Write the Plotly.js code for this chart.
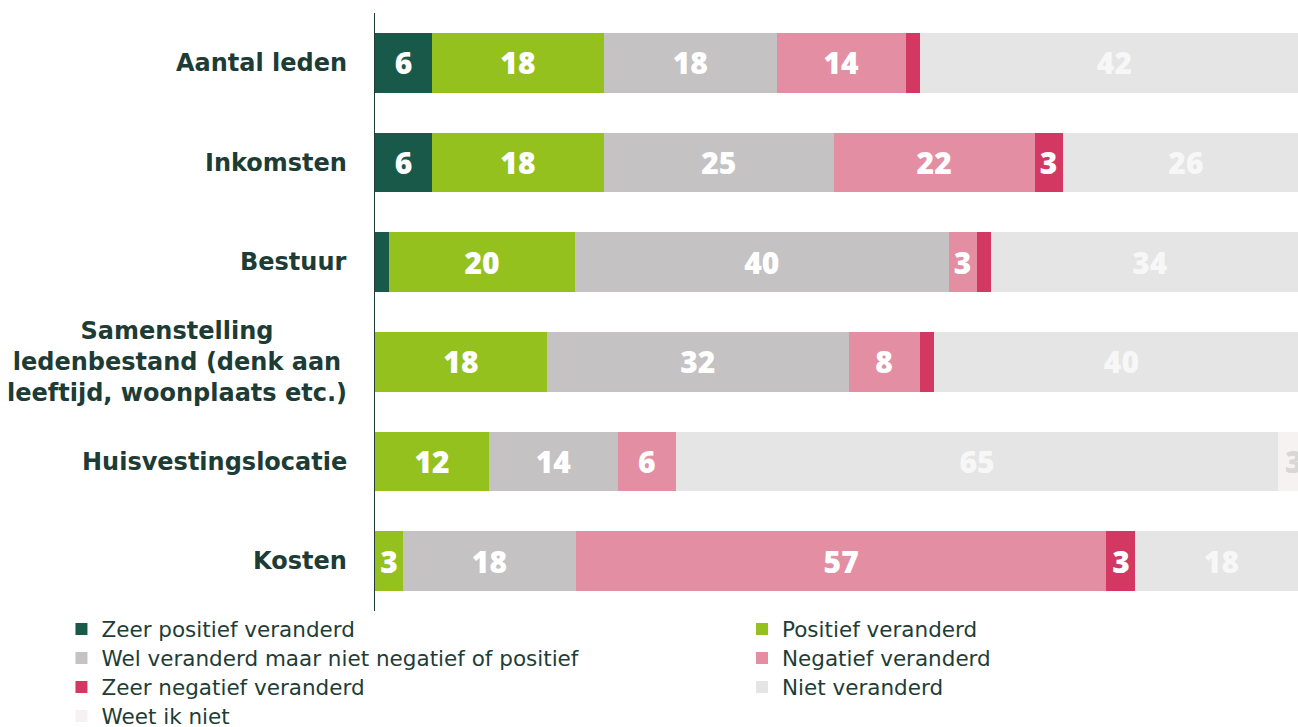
<!DOCTYPE html>
<html>
<head>
<meta charset="utf-8">
<script src="https://cdn.plot.ly/plotly-3.0.1.min.js"></script>
<style>
html, body { margin: 0; padding: 0; background: #ffffff; overflow: hidden; }
#chart { width: 1298px; height: 727px; }
</style>
</head>
<body>
<div id="chart"></div>
<script>
// Categories (top to bottom)
const categories = [
  "Aantal leden",
  "Inkomsten",
  "Bestuur",
  "Samenstelling ledenbestand (denk aan leeftijd, woonplaats etc.)",
  "Huisvestingslocatie",
  "Kosten"
];
const categoryLabels = [
  "Aantal leden",
  "Inkomsten",
  "Bestuur",
  "Samenstelling<br>ledenbestand (denk aan<br>leeftijd, woonplaats etc.)",
  "Huisvestingslocatie",
  "Kosten"
];

// Series names
const seriesNames = [
  "Zeer positief veranderd",
  "Positief veranderd",
  "Wel veranderd maar niet negatief of positief",
  "Negatief veranderd",
  "Zeer negatief veranderd",
  "Niet veranderd",
  "Weet ik niet"
];

// Values (% of respondents)
const zeerPositief  = [6.1, 6.1, 1.5, 0, 0, 0];
const positief      = [18.4, 18.4, 19.9, 18.4, 12.2, 3.0];
const welVeranderd  = [18.5, 24.6, 40.0, 32.3, 13.8, 18.5];
const negatief      = [13.8, 21.5, 3.0, 7.6, 6.2, 56.8];
const zeerNegatief  = [1.5, 3.0, 1.5, 1.5, 0, 3.1];
const nietVeranderd = [41.7, 26.4, 34.1, 40.2, 64.5, 18.4];
const weetIkNiet    = [0, 0, 0, 0, 3.3, 0];

// Printed labels inside the segments
const zeerPositiefLabels  = ["6", "6", "", "", "", ""];
const positiefLabels      = ["18", "18", "20", "18", "12", "3"];
const welVeranderdLabels  = ["18", "25", "40", "32", "14", "18"];
const negatiefLabels      = ["14", "22", "3", "8", "6", "57"];
const zeerNegatiefLabels  = ["", "3", "", "", "", "3"];
const nietVeranderdLabels = ["42", "26", "34", "40", "65", "18"];
const weetIkNietLabels    = ["", "", "", "", "3", ""];

const seriesValues = [zeerPositief, positief, welVeranderd, negatief, zeerNegatief, nietVeranderd, weetIkNiet];
const seriesLabels = [zeerPositiefLabels, positiefLabels, welVeranderdLabels, negatiefLabels, zeerNegatiefLabels, nietVeranderdLabels, weetIkNietLabels];
const seriesColors = ["#19594a", "#95c11f", "#c4c2c3", "#e48ea3", "#d33863", "#e5e5e5", "#f7f2f2"];
const labelColors  = ["#ffffff", "#ffffff", "#ffffff", "#ffffff", "#ffffff", "#f7f7f7", "#d9d6d6"];

// Legend placement: two columns, four rows (one legend box per entry)
const legendIds  = ["legend", "legend2", "legend3", "legend4", "legend5", "legend6", "legend7"];
const legendCol  = [0, 1, 0, 1, 0, 1, 0];
const legendRow  = [0, 0, 1, 1, 2, 2, 3];
const colX = [-0.3397, 0.3976];
const rowY = [0.0042, -0.0443, -0.0928, -0.1413];

const traces = seriesNames.map((name, i) => ({
  type: "bar",
  orientation: "h",
  name: name,
  x: seriesValues[i],
  y: categories,
  text: seriesLabels[i],
  textposition: "inside",
  insidetextanchor: "middle",
  textangle: 0,
  textfont: { family: "Open Sans", size: 30, weight: 800, color: labelColors[i] },
  marker: { color: seriesColors[i], line: { width: 0 } },
  hoverinfo: "skip",
  cliponaxis: true,
  legend: legendIds[i]
}));

const legendFont = { family: "DejaVu Sans", size: 21.5, color: "#1e3d36" };

const layout = {
  width: 1298,
  height: 727,
  margin: { l: 375, r: 0, t: 13, b: 116, autoexpand: false },
  paper_bgcolor: "#ffffff",
  plot_bgcolor: "#ffffff",
  barmode: "stack",
  bargap: 0.4,
  showlegend: true,
  xaxis: {
    range: [0, 98.8],
    visible: false,
    showgrid: false,
    zeroline: false,
    fixedrange: true
  },
  yaxis: {
    type: "category",
    autorange: "reversed",
    showticklabels: false,
    ticks: "",
    showgrid: false,
    zeroline: false,
    showline: true,
    linecolor: "#1e3d36",
    linewidth: 1.5,
    fixedrange: true
  },
  annotations: categories.map((c, i) => ({
    xref: "paper", x: 0, xanchor: "right", xshift: -26,
    yref: "y", y: c, yanchor: "middle",
    text: categoryLabels[i],
    showarrow: false,
    align: "center",
    font: { family: "DejaVu Sans", size: 24, weight: "bold", color: "#1d3c35" }
  }))
};

legendIds.forEach((id, i) => {
  layout[id] = {
    orientation: "v",
    traceorder: "normal",
    x: colX[legendCol[i]], xanchor: "left",
    y: rowY[legendRow[i]], yanchor: "top",
    font: legendFont,
    bgcolor: "rgba(0,0,0,0)",
    borderwidth: 0
  };
});

Plotly.newPlot("chart", traces, layout, { staticPlot: true, displayModeBar: false });
</script>
</body>
</html>
